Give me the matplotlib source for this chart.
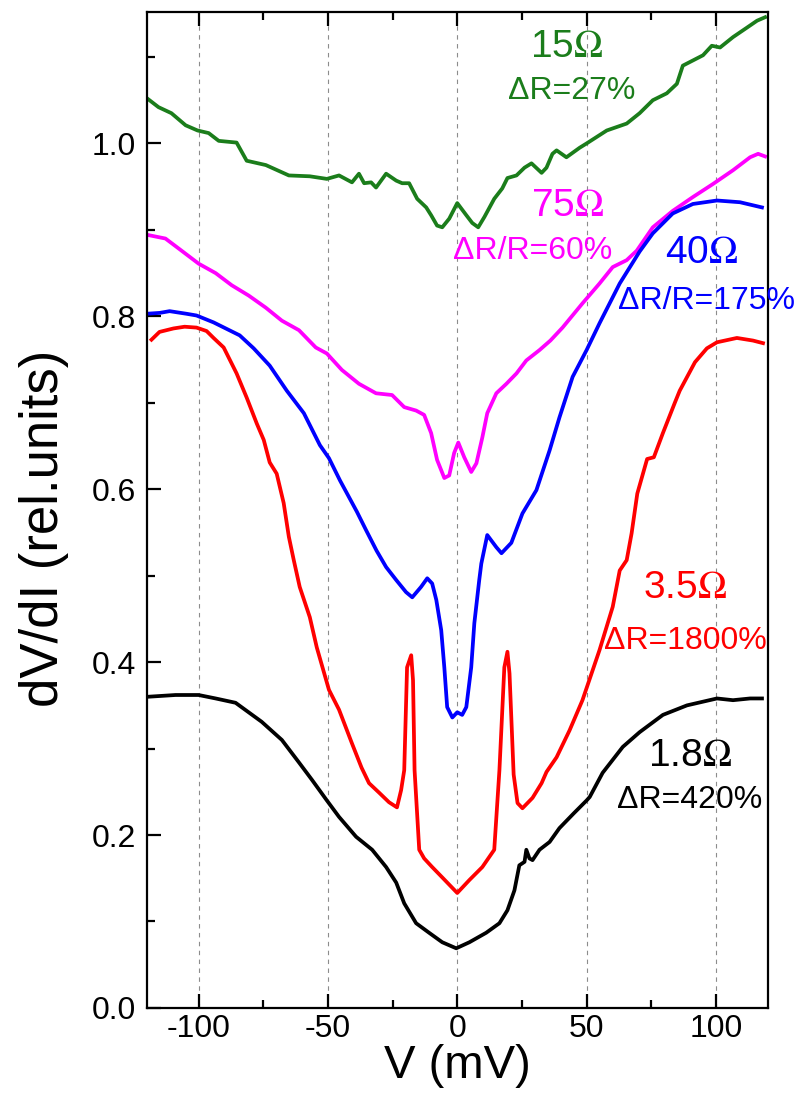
import numpy as np
import matplotlib.pyplot as plt
from matplotlib.ticker import MultipleLocator

plt.rcParams['font.family'] = ['Liberation Sans', 'DejaVu Sans']
plt.rcParams['mathtext.fontset'] = 'stix'
plt.rcParams['axes.unicode_minus'] = False

# 15 Ohm contact
v_15 = [-119.4, -115.5, -110.5, -105, -100.4, -96.1, -92.2, -85.3, -81.4, -74.0, -65.1, -57, -50.4,
        -45.7, -40.7, -38, -36, -33.3, -31.4, -27.5, -23.6, -21.3, -18.6, -15.5, -12, -10.1, -7.8,
        -5.8, -3.1, 0, 3.5, 5.8, 8.1, 10.5, 14.3, 17.4, 19.4, 22.9, 26, 28.7, 32.6, 34.5, 36.8,
        38.4, 42.2, 47.3, 50, 57.8, 65.5, 70.5, 75.6, 81, 84.9, 87.2, 91.1, 95, 98.4, 101.6,
        106.6, 112, 115.9, 119]
r_15 = [1.051, 1.042, 1.035, 1.021, 1.015, 1.012, 1.003, 1.001, 0.980, 0.975, 0.963, 0.962, 0.959,
        0.963, 0.955, 0.965, 0.954, 0.955, 0.949, 0.965, 0.957, 0.954, 0.954, 0.936, 0.926, 0.917,
        0.905, 0.903, 0.913, 0.931, 0.917, 0.908, 0.903, 0.915, 0.936, 0.948, 0.960, 0.963, 0.972,
        0.977, 0.966, 0.972, 0.988, 0.992, 0.984, 0.995, 1.000, 1.015, 1.023, 1.035, 1.050, 1.058,
        1.069, 1.090, 1.096, 1.102, 1.113, 1.111, 1.123, 1.134, 1.142, 1.146]

# 75 Ohm contact
v_75 = [-119.4, -112.8, -106.6, -100, -93.4, -87.2, -80.6, -74, -67.8, -61.2, -54.7, -50.4, -44.6,
        -38, -31.4, -25.2, -20.5, -15.9, -12.8, -10.1, -7.8, -5.0, -3.1, -1.2, 0.4, 2.7, 5.4, 7.4,
        9.7, 11.6, 15.1, 19, 22.9, 26.7, 31.8, 36, 40.7, 48.4, 55, 60.1, 65.5, 69.4, 75.6, 83.3,
        91.1, 98.8, 106.6, 113.2, 116.3, 119]
r_75 = [0.894, 0.890, 0.876, 0.861, 0.850, 0.836, 0.824, 0.810, 0.795, 0.784, 0.764, 0.757, 0.738,
        0.722, 0.711, 0.709, 0.695, 0.691, 0.686, 0.665, 0.634, 0.613, 0.616, 0.642, 0.654, 0.637,
        0.620, 0.630, 0.660, 0.688, 0.711, 0.722, 0.734, 0.749, 0.761, 0.772, 0.787, 0.815, 0.838,
        0.857, 0.865, 0.876, 0.903, 0.922, 0.938, 0.953, 0.969, 0.984, 0.988, 0.985]

# 40 Ohm contact
v_40 = [-120, -115, -111.2, -104.7, -100.8, -94.2, -84.1, -78.7, -72.5, -65.9, -59.3, -53.1, -49.6,
        -45.3, -38.8, -35.3, -31.2, -27.5, -23.6, -19.8, -17.4, -14.0, -11.6, -9.7, -8.1, -6.2,
        -5.0, -3.9, -1.9, 0, 1.9, 3.5, 5.4, 6.6, 8.5, 9.3, 11.6, 15.1, 17.1, 20.9, 25.2, 30.6,
        35.7, 39.5, 44.6, 50, 55, 62.8, 70.5, 75.6, 83.3, 91.1, 100.4, 109.3, 117.8]
r_40 = [0.803, 0.804, 0.806, 0.803, 0.801, 0.793, 0.778, 0.763, 0.743, 0.714, 0.688, 0.651, 0.636,
        0.610, 0.574, 0.553, 0.529, 0.510, 0.495, 0.481, 0.475, 0.487, 0.497, 0.491, 0.472, 0.437,
        0.394, 0.348, 0.336, 0.342, 0.339, 0.348, 0.394, 0.445, 0.495, 0.514, 0.547, 0.533, 0.526,
        0.538, 0.572, 0.599, 0.645, 0.683, 0.730, 0.761, 0.792, 0.838, 0.875, 0.896, 0.919, 0.930,
        0.934, 0.932, 0.926]

# 3.5 Ohm contact
v_35 = [-118.2, -115.1, -109.7, -105.4, -100.8, -96.9, -94.2, -90.3, -85.3, -81.4, -77.5, -74.8,
        -72.5, -69.8, -67.1, -65.1, -63.2, -60.9, -57, -54.3, -49.6, -45.7, -40.7, -37, -34.1,
        -30.2, -26.4, -23.3, -21.7, -20.5, -19.4, -17.8, -17.1, -16.5, -14.7, -12.8, -9.7, -5.8,
        0, 4.7, 9.7, 14.3, 16.3, 18.2, 19.4, 20.2, 21.8, 23.3, 25.2, 29.1, 32.6, 34.5, 38.4, 43.4,
        48.4, 55, 60.1, 62.8, 65.5, 67.4, 69.6, 73.4, 76, 79.5, 84.1, 86, 91.9, 96.5, 100.4,
        108.1, 114.3, 118.2]
r_35 = [0.773, 0.782, 0.786, 0.788, 0.787, 0.783, 0.775, 0.764, 0.734, 0.706, 0.676, 0.657, 0.631,
        0.618, 0.584, 0.545, 0.518, 0.487, 0.452, 0.417, 0.368, 0.345, 0.306, 0.278, 0.260, 0.249,
        0.238, 0.232, 0.252, 0.275, 0.394, 0.408, 0.379, 0.275, 0.183, 0.173, 0.163, 0.151, 0.133,
        0.148, 0.163, 0.183, 0.275, 0.394, 0.412, 0.387, 0.270, 0.237, 0.231, 0.243, 0.260, 0.273,
        0.290, 0.321, 0.356, 0.414, 0.464, 0.506, 0.518, 0.549, 0.595, 0.635, 0.637, 0.665, 0.700,
        0.714, 0.747, 0.763, 0.770, 0.775, 0.772, 0.769]

# 1.8 Ohm contact
v_18 = [-119.4, -108.9, -100, -93.4, -85.7, -75.6, -67.8, -61.2, -56.2, -50.4, -45.7, -39.1, -32.9,
        -27.5, -23.6, -20.5, -15.9, -10.9, -5.8, -0.4, 4.7, 11.2, 16.3, 19.4, 22.1, 24.0, 26.0,
        26.7, 27.9, 29.1, 31.8, 35.7, 39.5, 45, 50, 51.2, 56.2, 64, 70.5, 79.5, 88.8, 100.4, 106.6,
        113.2, 117.8]
r_18 = [0.360, 0.362, 0.362, 0.358, 0.353, 0.331, 0.310, 0.284, 0.264, 0.240, 0.221, 0.198, 0.183,
        0.163, 0.145, 0.121, 0.098, 0.087, 0.076, 0.069, 0.076, 0.087, 0.098, 0.113, 0.136, 0.165,
        0.169, 0.183, 0.173, 0.171, 0.183, 0.192, 0.208, 0.225, 0.240, 0.244, 0.272, 0.302, 0.319,
        0.339, 0.350, 0.358, 0.356, 0.358, 0.358]

fig = plt.figure(figsize=(7.98, 10.95), dpi=100)
ax = fig.add_axes([0.184, 0.0795, 0.778, 0.9095])

lw = 2.7
ax.plot(v_15, r_15, color='#1b7d1b', lw=lw)
ax.plot(v_75, r_75, color='#ff00ff', lw=lw)
ax.plot(v_40, r_40, color='#0000ff', lw=lw)
ax.plot(v_35, r_35, color='#ff0000', lw=lw)
ax.plot(v_18, r_18, color='black', lw=lw)

ax.set_xlim(-120, 120)
ax.set_ylim(0, 1.152)
ax.xaxis.set_major_locator(MultipleLocator(50))
ax.xaxis.set_minor_locator(MultipleLocator(25))
ax.yaxis.set_major_locator(MultipleLocator(0.2))
ax.yaxis.set_minor_locator(MultipleLocator(0.1))
ax.yaxis.set_major_formatter(lambda v, p: f'{v:.1f}')

ax.grid(axis='x', which='major', color='0.55', linestyle=(0, (4, 4)), linewidth=0.8)
ax.set_axisbelow(True)

for s in ax.spines.values():
    s.set_linewidth(1.6)
ax.tick_params(which='both', direction='in', top=True, right=False, width=1.6, labelsize=23)
ax.tick_params(which='major', length=10)
ax.tick_params(which='minor', length=6)
ax.tick_params(axis='y', pad=8)
ax.tick_params(axis='x', pad=4)

ax.set_xlabel('V (mV)', fontsize=34, labelpad=0)
ax.set_ylabel('dV/dI (rel.units)', fontsize=38)
ax.yaxis.set_label_coords(-0.125, 0.482)

big, small = 28, 23
ax.text(42.2, 1.111, r'15$\Omega$', color='#1b7d1b', fontsize=big, ha='center', va='center')
ax.text(44.2, 1.061, 'ΔR=27%', color='#1b7d1b', fontsize=small, ha='center', va='center')
ax.text(42.6, 0.928, r'75$\Omega$', color='#ff00ff', fontsize=big, ha='center', va='center')
ax.text(29.1, 0.876, 'ΔR/R=60%', color='#ff00ff', fontsize=small, ha='center', va='center')
ax.text(94.6, 0.873, r'40$\Omega$', color='#0000ff', fontsize=big, ha='center', va='center')
ax.text(96.5, 0.818, 'ΔR/R=175%', color='#0000ff', fontsize=small, ha='center', va='center')
ax.text(88, 0.486, r'3.5$\Omega$', color='#ff0000', fontsize=big, ha='center', va='center')
ax.text(88, 0.425, 'ΔR=1800%', color='#ff0000', fontsize=small, ha='center', va='center')
ax.text(90, 0.292, r'1.8$\Omega$', color='black', fontsize=big, ha='center', va='center')
ax.text(90, 0.240, 'ΔR=420%', color='black', fontsize=small, ha='center', va='center')

fig.savefig('out.png', dpi=100)
